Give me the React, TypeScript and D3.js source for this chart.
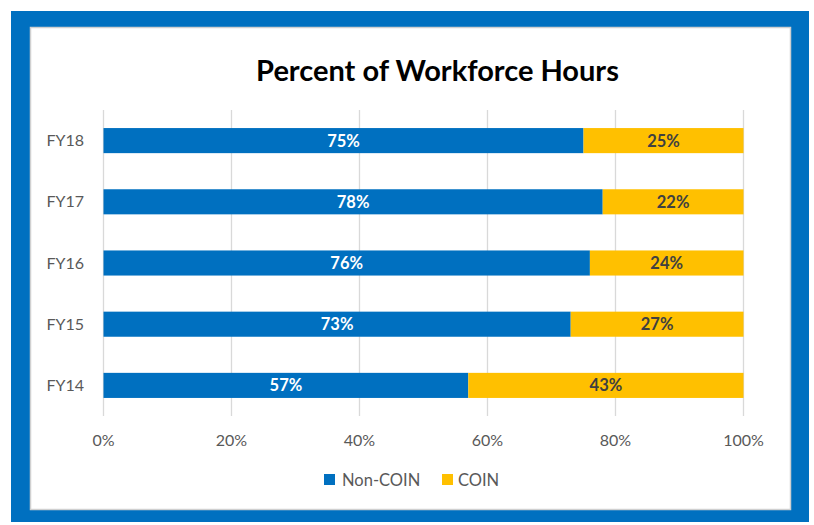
import React from "react";
import { scaleLinear, scaleBand } from "d3";

const years = ["FY18", "FY17", "FY16", "FY15", "FY14"];
const nonCoin = [75, 78, 76, 73, 57];
const coin = [25, 22, 24, 27, 43];
const xTicks = [0, 20, 40, 60, 80, 100];

const BLUE = "#0070C0";
const YELLOW = "#FFC000";
const FONT = "Lato, 'Open Sans', sans-serif";

export default function App() {
  const x = scaleLinear().domain([0, 100]).range([103.5, 743.5]);
  const y = scaleBand().domain(years).range([110, 416]).paddingInner(0.59).paddingOuter(0.295);
  const bh = y.bandwidth();

  return (
    <svg width={814} height={525} style={{ position: "absolute", left: 0, top: 0 }}>
      <rect x={0} y={0} width={814} height={525} fill="#fff" />
      <rect x={11} y={11} width={798} height={511} fill={BLUE} />
      <rect x={30.5} y={27.5} width={760} height={482} fill="#fff" stroke="#d0d0d0" strokeWidth={1.5} />

      <text x={437.5} y={81} textAnchor="middle" fontFamily={FONT} fontWeight="bold" fontSize={29} fill="#000">
        Percent of Workforce Hours
      </text>

      {xTicks.map((t) => (
        <g key={t}>
          <line x1={x(t)} x2={x(t)} y1={110} y2={416} stroke="#d9d9d9" strokeWidth={1.3} />
          <text x={x(t)} y={446} textAnchor="middle" fontFamily={FONT} fontSize={16} fill="#595959">
            {t}%
          </text>
        </g>
      ))}

      {years.map((yr, i) => {
        const y0 = y(yr) as number;
        const cy = y0 + bh / 2;
        return (
          <g key={yr}>
            <text x={84} y={cy + 5.5} textAnchor="end" fontFamily={FONT} fontSize={16} fill="#595959">
              {yr}
            </text>
            <rect x={x(0)} y={y0} width={x(nonCoin[i]) - x(0)} height={bh} fill={BLUE} />
            <rect x={x(nonCoin[i])} y={y0} width={x(nonCoin[i] + coin[i]) - x(nonCoin[i])} height={bh} fill={YELLOW} />
            <text x={(x(0) + x(nonCoin[i])) / 2} y={cy + 6} textAnchor="middle" fontFamily={FONT} fontWeight="bold" fontSize={16.5} fill="#fff">
              {nonCoin[i]}%
            </text>
            <text x={(x(nonCoin[i]) + x(100)) / 2} y={cy + 6} textAnchor="middle" fontFamily={FONT} fontWeight="bold" fontSize={16.5} fill="#404040">
              {coin[i]}%
            </text>
          </g>
        );
      })}

      <rect x={324} y={474} width={11} height={11} fill={BLUE} />
      <text x={342} y={486} fontFamily={FONT} fontSize={16.5} fill="#595959">Non-COIN</text>
      <rect x={442} y={474} width={11} height={11} fill={YELLOW} />
      <text x={458} y={486} fontFamily={FONT} fontSize={16.5} fill="#595959">COIN</text>
    </svg>
  );
}
